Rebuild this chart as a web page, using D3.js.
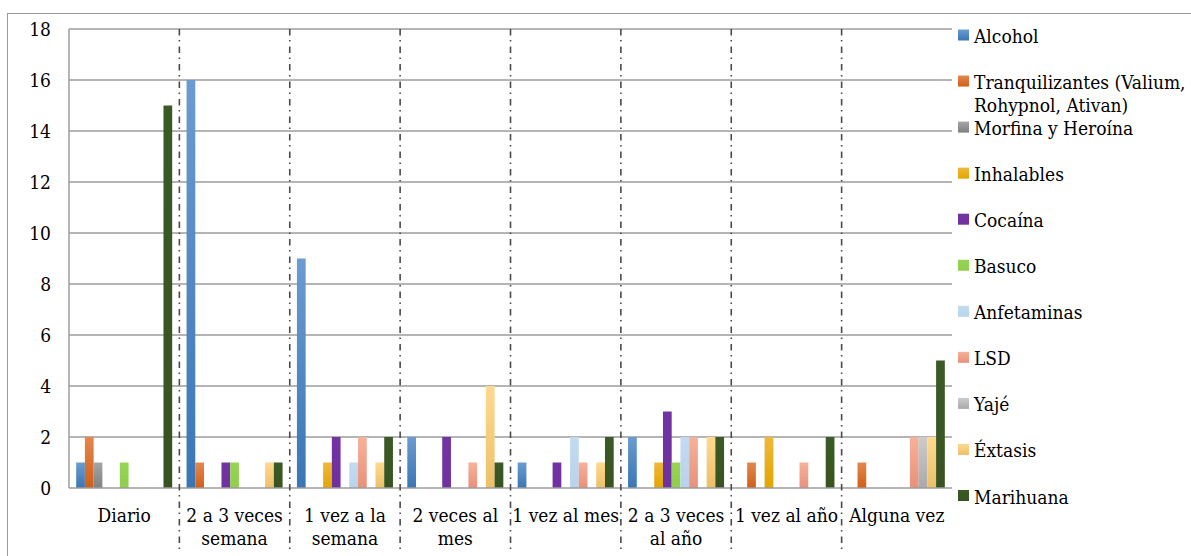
<!DOCTYPE html>
<html>
<head>
<meta charset="utf-8">
<script src="https://cdn.jsdelivr.net/npm/d3@7"></script>
<style>
  body { margin: 0; background: #fff; }
</style>
</head>
<body>
<svg id="chart"></svg>
<script>
const categories = [
  ["Diario"],
  ["2 a 3 veces", "semana"],
  ["1 vez a la", "semana"],
  ["2 veces al", "mes"],
  ["1 vez al mes"],
  ["2 a 3 veces", "al año"],
  ["1 vez al año"],
  ["Alguna vez"]
];

const series = [
  "Alcohol", "Tranquilizantes (Valium, Rohypnol, Ativan)", "Morfina y Heroína",
  "Inhalables", "Cocaína", "Basuco", "Anfetaminas", "LSD", "Yajé", "Éxtasis", "Marihuana"
];

// one row per series, one value per category (0 = no bar)
const alcohol         = [1, 16, 9, 2, 1, 2, 0, 0];
const tranquilizantes = [2, 1, 0, 0, 0, 0, 1, 1];
const morfina         = [1, 0, 0, 0, 0, 0, 0, 0];
const inhalables      = [0, 0, 1, 0, 0, 1, 2, 0];
const cocaina         = [0, 1, 2, 2, 1, 3, 0, 0];
const basuco          = [1, 1, 0, 0, 0, 1, 0, 0];
const anfetaminas     = [0, 0, 1, 0, 2, 2, 0, 0];
const lsd             = [0, 0, 2, 1, 1, 2, 1, 2];
const yaje            = [0, 0, 0, 0, 0, 0, 0, 2];
const extasis         = [0, 1, 1, 4, 1, 2, 0, 2];
const marihuana       = [15, 1, 2, 1, 2, 2, 2, 5];

const yTicks = [0, 2, 4, 6, 8, 10, 12, 14, 16, 18];

const values = [alcohol, tranquilizantes, morfina, inhalables, cocaina, basuco,
  anfetaminas, lsd, yaje, extasis, marihuana];

// top / bottom colours of the vertical gradients
const colors = [
  ["#6b9bd1", "#3a76b4"],
  ["#e3874f", "#d05f17"],
  ["#a6a6a6", "#7f7f7f"],
  ["#eeb83c", "#e2a500"],
  ["#7433a3", "#70309f"],
  ["#95d454", "#8fcf4d"],
  ["#c3dbf0", "#b8d3ec"],
  ["#f7b19a", "#e8917a"],
  ["#cccccc", "#a9a9a9"],
  ["#ffd98f", "#ecc068"],
  ["#3b5a26", "#375321"]
];

const W = 1191, H = 556;
const margin = { top: 29, right: 239, bottom: 68, left: 69 };
const FONT = "'DejaVu Serif Condensed', 'DejaVu Serif', serif";
const FS = "19px";

const svg = d3.select("#chart")
  .attr("width", W)
  .attr("height", H)
  .style("font-family", FONT)
  .style("font-stretch", "condensed");

const defs = svg.append("defs");
colors.forEach((c, i) => {
  const g = defs.append("linearGradient")
    .attr("id", "grad" + i)
    .attr("x1", 0).attr("y1", 0).attr("x2", 0).attr("y2", 1);
  g.append("stop").attr("offset", "0%").attr("stop-color", c[0]);
  g.append("stop").attr("offset", "100%").attr("stop-color", c[1]);
});

// outer chart border
svg.append("rect")
  .attr("x", 7.5).attr("y", 13.5)
  .attr("width", W).attr("height", H)
  .attr("fill", "none")
  .attr("stroke", "#9a9a9a");

const x0 = d3.scaleBand()
  .domain(d3.range(categories.length))
  .range([margin.left, W - margin.right])
  .paddingInner(0.13)
  .paddingOuter(0.065);

const x1 = d3.scaleBand()
  .domain(d3.range(series.length))
  .range([0, x0.bandwidth()]);

const y = d3.scaleLinear()
  .domain([0, 18])
  .range([H - margin.bottom, margin.top]);

// gridlines
svg.append("g")
  .selectAll("line")
  .data(yTicks.slice(1))
  .enter().append("line")
  .attr("x1", margin.left)
  .attr("x2", W - margin.right)
  .attr("y1", d => y(d))
  .attr("y2", d => y(d))
  .attr("stroke", "#9c9c9c")
  .attr("stroke-width", 1.5);

// y tick labels
svg.append("g")
  .selectAll("text")
  .data(yTicks)
  .enter().append("text")
  .attr("x", 51)
  .attr("y", d => y(d))
  .attr("dy", "0.35em")
  .attr("text-anchor", "end")
  .style("font-size", FS)
  .text(d => d);

// bars
const groups = svg.append("g")
  .selectAll("g")
  .data(values)
  .enter().append("g")
  .attr("fill", (d, i) => `url(#grad${i})`);

groups.selectAll("rect")
  .data((d, i) => d.map((v, j) => ({ s: i, c: j, v: v })).filter(d => d.v > 0))
  .enter().append("rect")
  .attr("x", d => x0(d.c) + x1(d.s))
  .attr("width", x1.bandwidth())
  .attr("y", d => y(d.v))
  .attr("height", d => y(0) - y(d.v));

// axis lines
svg.append("line")
  .attr("x1", margin.left).attr("x2", margin.left)
  .attr("y1", y(18)).attr("y2", y(0))
  .attr("stroke", "#9c9c9c").attr("stroke-width", 1.5);
svg.append("line")
  .attr("x1", margin.left).attr("x2", W - margin.right)
  .attr("y1", y(0)).attr("y2", y(0))
  .attr("stroke", "#9c9c9c").attr("stroke-width", 1.5);

// dash-dot separators between categories
svg.append("g")
  .selectAll("line")
  .data(d3.range(1, categories.length))
  .enter().append("line")
  .attr("x1", d => x0(d) - x0.step() * x0.paddingInner() / 2)
  .attr("x2", d => x0(d) - x0.step() * x0.paddingInner() / 2)
  .attr("y1", y(18))
  .attr("y2", 551)
  .attr("stroke", "#4a4a4a")
  .attr("stroke-width", 1.6)
  .attr("stroke-dasharray", "6.5,4.5,1.5,5");

// category labels
svg.append("g")
  .selectAll("text")
  .data(categories)
  .enter().append("text")
  .attr("x", (d, i) => x0(i) + x0.bandwidth() / 2)
  .attr("y", 522)
  .attr("text-anchor", "middle")
  .style("font-size", FS)
  .each(function (d) {
    const t = d3.select(this);
    d.forEach((line, k) => {
      t.append("tspan")
        .attr("x", t.attr("x"))
        .attr("dy", k === 0 ? 0 : 23)
        .text(line);
    });
  });

// legend
const ly = d3.scalePoint()
  .domain(d3.range(series.length))
  .range([35, 495.5]);

const legend = svg.append("g")
  .selectAll("g")
  .data(series)
  .enter().append("g")
  .attr("transform", (d, i) => `translate(958,${ly(i)})`);

legend.append("rect")
  .attr("x", 0).attr("y", -5.5)
  .attr("width", 11).attr("height", 11)
  .attr("fill", (d, i) => `url(#grad${i})`);

legend.append("text")
  .attr("x", 16)
  .attr("y", 8)
  .style("font-size", FS)
  .each(function (d) {
    const t = d3.select(this);
    const lines = d.startsWith("Tranquilizantes")
      ? ["Tranquilizantes (Valium,", "Rohypnol, Ativan)"] : [d];
    lines.forEach((line, k) => {
      t.append("tspan")
        .attr("x", 16)
        .attr("dy", k === 0 ? 0 : 23)
        .text(line);
    });
  });
</script>
</body>
</html>
